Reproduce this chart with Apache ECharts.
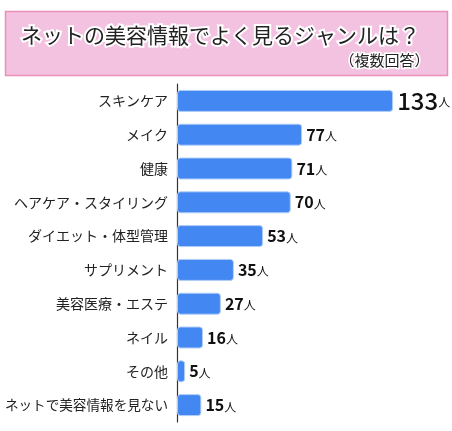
<!DOCTYPE HTML>
<html>
<head>
	<meta charset="utf-8" />
	<title>ネットの美容情報でよく見るジャンルは？</title>
	<script src="https://cdn.jsdelivr.net/npm/echarts@6/dist/echarts.min.js"></script>
	<style>
		html, body { margin: 0; padding: 0; background: #fff; }
		#main { width: 452px; height: 431px; }
	</style>
</head>
<body>
	<div id="main"></div>
	<script type="text/javascript">
		var categories = ["スキンケア", "メイク", "健康", "ヘアケア・スタイリング", "ダイエット・体型管理",
			"サプリメント", "美容医療・エステ", "ネイル", "その他", "ネットで美容情報を見ない"];
		var values = [133, 77, 71, 70, 53, 35, 27, 16, 5, 15];
		var unit = "人";
		var titleText = "ネットの美容情報でよく見るジャンルは？";
		var subText = "（複数回答）";

		var font = "'Noto Sans CJK JP', 'Noto Sans', sans-serif";
		var myChart = echarts.init(document.getElementById("main"));

		// the longest label is set a bit smaller so it fits left of the axis
		var yData = categories.map(function (c, i) {
			return i === categories.length - 1 ? { value: c, textStyle: { fontSize: 13.6 } } : c;
		});

		var option = {
			animation: false,
			textStyle: { fontFamily: font },
			graphic: [
				{
					type: "rect",
					shape: { x: 5.5, y: 11.5, width: 442, height: 64 },
					style: { fill: "#f4c2e1", stroke: "#e98fb8", lineWidth: 1.5 }
				},
				{
					type: "text",
					left: 19,
					top: 23,
					style: {
						text: titleText,
						font: "21px " + font,
						fill: "#222",
						stroke: "#fff",
						lineWidth: 4
					}
				},
				{
					type: "text",
					right: 21,
					top: 51,
					style: {
						text: subText,
						font: "15px " + font,
						fill: "#222",
						stroke: "#fff",
						lineWidth: 3
					}
				}
			],
			grid: { left: 177, right: 15, top: 84, bottom: 9 },
			xAxis: {
				type: "value",
				min: 0,
				max: 160,
				show: false
			},
			yAxis: {
				type: "category",
				inverse: true,
				data: yData,
				axisLine: { show: true, lineStyle: { color: "#333", width: 1.2 } },
				axisTick: { show: false },
				axisLabel: { color: "#222", fontSize: 14, margin: 9, fontFamily: font }
			},
			series: [{
				type: "bar",
				data: values,
				barWidth: 22,
				itemStyle: {
					color: "#4387f2",
					borderColor: "#b3cff8",
					borderWidth: 1,
					borderRadius: 3
				},
				label: {
					show: true,
					position: "right",
					distance: 4,
					formatter: function (p) {
						return (p.dataIndex === 0 ? "{big|" : "{num|") + p.value + "}{u|" + unit + "}";
					},
					rich: {
						big: { fontSize: 24, color: "#111", fontFamily: font, fontWeight: 500 },
						num: { fontSize: 16, color: "#111", fontFamily: font, fontWeight: 600 },
						u: { fontSize: 12, color: "#111", fontFamily: font, padding: [4, 0, 0, 0] }
					}
				}
			}]
		};

		myChart.setOption(option);
	</script>
</body>
</html>
